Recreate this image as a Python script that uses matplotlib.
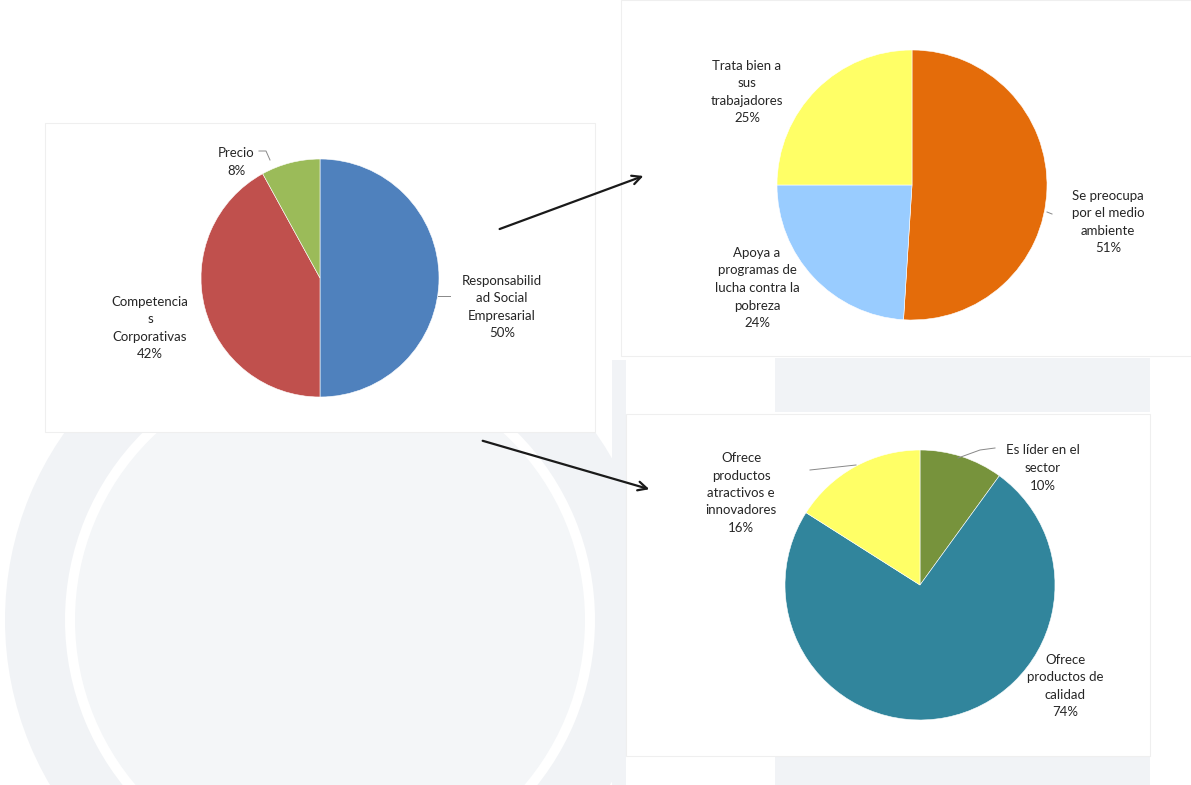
import matplotlib.pyplot as plt
from matplotlib.patches import Rectangle, Circle, Wedge

# Data
main_labels = ['Responsabilid\nad Social\nEmpresarial', 'Competencia\ns\nCorporativas', 'Precio']
main_values = [50, 42, 8]
main_colors = ['#4F81BD', '#C0504D', '#9BBB59']

rse_labels = ['Se preocupa\npor el medio\nambiente', 'Apoya a\nprogramas de\nlucha contra la\npobreza',
              'Trata bien a\nsus\ntrabajadores']
rse_values = [51, 24, 25]
rse_colors = ['#E46C0A', '#99CCFF', '#FFFF66']

comp_labels = ['Es líder en el\nsector', 'Ofrece\nproductos de\ncalidad',
               'Ofrece\nproductos\natractivos e\ninnovadores']
comp_values = [10, 74, 16]
comp_colors = ['#77933C', '#31859C', '#FFFF66']

W, H = 1191, 785
plt.rcParams['font.family'] = ['Lato', 'DejaVu Sans']

fig = plt.figure(figsize=(W / 100, H / 100), dpi=100)
ax = fig.add_axes([0, 0, 1, 1])
ax.set_xlim(0, W)
ax.set_ylim(0, H)
ax.set_aspect('equal')
ax.axis('off')


def py(y):
    # pixel row (from top) to data y
    return H - y


# faint watermark seal in the background
bg = '#f1f3f6'
ax.add_patch(Wedge((330, py(620)), 325, 0, 360, width=60, facecolor=bg, edgecolor='none', zorder=0))
ax.add_patch(Circle((330, py(620)), 255, facecolor='#f4f6f8', edgecolor='none', zorder=0))
ax.add_patch(Rectangle((612, 0), 14, py(360), facecolor=bg, edgecolor='none', zorder=0))
ax.add_patch(Rectangle((775, py(412)), 375, 54, facecolor=bg, edgecolor='none', zorder=0))
ax.add_patch(Rectangle((775, 0), 375, py(757), facecolor=bg, edgecolor='none', zorder=0))

# white chart panels
panel = dict(facecolor='white', edgecolor='#efefef', lw=0.8, zorder=1)
ax.add_patch(Rectangle((45, py(432)), 550, 309, **panel))
ax.add_patch(Rectangle((621, py(356)), 570, 356, **panel))
ax.add_patch(Rectangle((626, py(756)), 524, 342, **panel))


def draw_pie(values, colors, center, radius):
    wedges, _ = ax.pie(values, colors=colors, startangle=90, counterclock=False,
                       center=(center[0], py(center[1])), radius=radius, frame=True,
                       wedgeprops=dict(edgecolor='white', linewidth=0.4))
    for w in wedges:
        w.set_zorder(2)


def label(text, value, x, y):
    ax.text(x, py(y), f'{text}\n{value}%', ha='center', va='center', fontsize=9.5,
            color='#262626', linespacing=1.55, zorder=3)


def leader(xs, ys):
    ax.plot(xs, [py(v) for v in ys], color='#888888', lw=0.7, zorder=3)


# main pie
draw_pie(main_values, main_colors, (320, 278), 119)
label(main_labels[0], main_values[0], 502, 307)
label(main_labels[1], main_values[1], 150, 328)
label(main_labels[2], main_values[2], 236, 162)
leader([259, 266, 270], [151, 151, 160])
leader([438, 450], [296, 296])

# top right pie
draw_pie(rse_values, rse_colors, (912, 185), 135)
label(rse_labels[0], rse_values[0], 1108, 222)
label(rse_labels[1], rse_values[1], 757, 288)
label(rse_labels[2], rse_values[2], 747, 92)
leader([1047, 1052], [212, 214])

# bottom right pie
draw_pie(comp_values, comp_colors, (920, 585), 135)
label(comp_labels[0], comp_values[0], 1043, 468)
label(comp_labels[1], comp_values[1], 1065, 686)
label(comp_labels[2], comp_values[2], 741, 493)
leader([810, 856], [470, 465])
leader([958, 980, 995], [458, 450, 448])

# arrows between charts
arrow = dict(arrowstyle='->', color='#1a1a1a', lw=1.6, mutation_scale=16)
ax.annotate('', xy=(646, py(175)), xytext=(497, py(230)), arrowprops=arrow, zorder=4)
ax.annotate('', xy=(652, py(490)), xytext=(480, py(440)), arrowprops=arrow, zorder=4)

ax.set_xlim(0, W)
ax.set_ylim(0, H)
fig.savefig('out.png', dpi=100, facecolor='white')
